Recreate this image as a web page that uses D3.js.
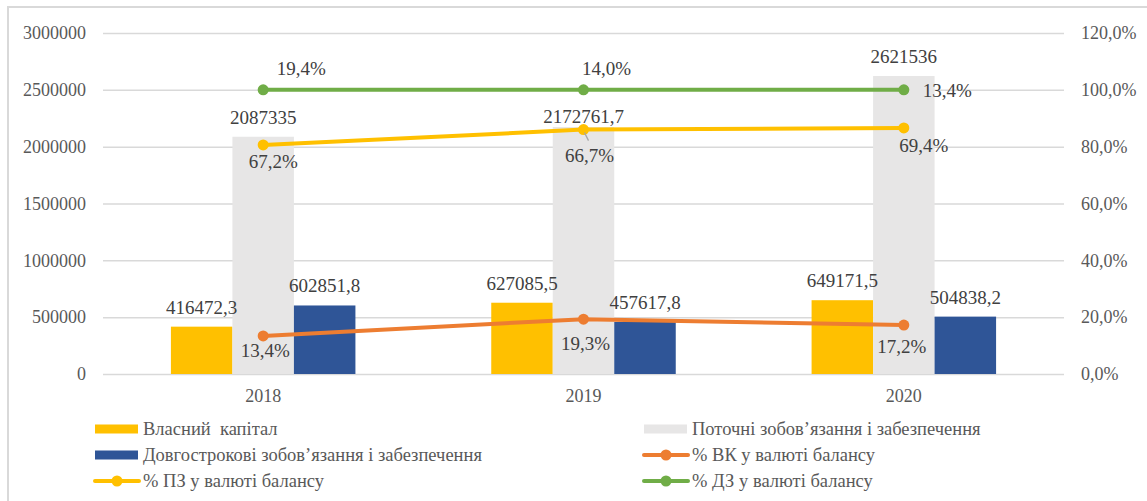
<!DOCTYPE html>
<html>
<head>
<meta charset="utf-8">
<script src="https://cdn.jsdelivr.net/npm/d3@7"></script>
<style>
  body { margin: 0; background: #fff; }
  text { font-family: "Liberation Serif", "Times New Roman", "DejaVu Serif", serif; }
</style>
</head>
<body>
<div id="chart"></div>
<script>
(function() {
	// categories
	var years = ["2018", "2019", "2020"];

	// bars (left axis)
	var equity = [416472.3, 627085.5, 649171.5];          // Власний капітал
	var currentLiab = [2087335, 2172761.7, 2621536];       // Поточні зобов'язання і забезпечення
	var longLiab = [602851.8, 457617.8, 504838.2];         // Довгострокові зобов'язання і забезпечення

	// lines (right axis, stacked), in %
	var pctEquity = [13.4, 19.3, 17.2];   // % ВК
	var pctCurrent = [67.2, 66.7, 69.4];  // % ПЗ
	var pctLong = [19.4, 14.0, 13.4];     // % ДЗ

	var leftTicks = [0, 500000, 1000000, 1500000, 2000000, 2500000, 3000000];
	var rightTicks = [0, 20, 40, 60, 80, 100, 120];

	var width = 1147, height = 501;
	var plot = { left: 103, right: 1064, top: 33, bottom: 374 };

	var colors = { equity: "#FFC000", current: "#E7E6E6", long: "#2F5597",
		lineEq: "#ED7D31", lineCur: "#FFC000", lineLong: "#70AD47" };

	var svg = d3.select("#chart").append("svg")
		.attr("width", width)
		.attr("height", height);

	// outer chart border (only top/left visible in the crop)
	svg.append("rect")
		.attr("x", 8).attr("y", 7)
		.attr("width", 1160).attr("height", 520)
		.attr("fill", "none")
		.attr("stroke", "#d9d9d9")
		.attr("stroke-width", 2);

	// scales
	var xScale = d3.scaleBand().domain(years).range([plot.left, plot.right]);
	var barKeys = ["equity", "current", "long"];
	var barW = 61.5;
	var xInner = d3.scaleBand().domain(barKeys).range([-barW * 1.5, barW * 1.5]);

	var yLeft = d3.scaleLinear().domain([0, 3000000]).range([plot.bottom, plot.top]);
	var yRight = d3.scaleLinear().domain([0, 120]).range([plot.bottom, plot.top]);

	// gridlines
	svg.append("g")
		.attr("transform", "translate(" + plot.left + ",0)")
		.call(d3.axisLeft(yLeft).tickValues(leftTicks).tickSize(-(plot.right - plot.left)).tickFormat(""))
		.call(function(g) {
			g.select(".domain").remove();
			g.selectAll("line").attr("stroke", "#d9d9d9").attr("stroke-width", 1.5);
		});

	// left axis labels
	svg.append("g")
		.attr("transform", "translate(" + plot.left + ",0)")
		.call(d3.axisLeft(yLeft).tickValues(leftTicks).tickSize(0).tickPadding(17).tickFormat(d3.format("d")))
		.call(function(g) {
			g.select(".domain").remove();
			g.selectAll("text").attr("font-size", 18).attr("fill", "#595959");
		});

	// right axis labels
	var pctFmt = function(v) { return d3.format(".1f")(v).replace(".", ",") + "%"; };
	svg.append("g")
		.attr("transform", "translate(" + plot.right + ",0)")
		.call(d3.axisRight(yRight).tickValues(rightTicks).tickSize(0).tickPadding(17).tickFormat(pctFmt))
		.call(function(g) {
			g.select(".domain").remove();
			g.selectAll("text").attr("font-size", 18).attr("fill", "#595959");
		});

	// x axis labels
	svg.append("g")
		.attr("transform", "translate(0,389)")
		.call(d3.axisBottom(xScale).tickSize(0).tickPadding(0))
		.call(function(g) {
			g.select(".domain").remove();
			g.selectAll("text").attr("font-size", 18).attr("fill", "#595959").attr("dy", "0.71em");
		});

	// bars
	var barData = [];
	years.forEach(function(y, i) {
		barData.push({ year: y, key: "equity", value: equity[i] });
		barData.push({ year: y, key: "current", value: currentLiab[i] });
		barData.push({ year: y, key: "long", value: longLiab[i] });
	});

	var cx = function(d) { return xScale(d.year) + xScale.bandwidth() / 2; };

	svg.selectAll("rect.bar")
		.data(barData)
		.enter()
		.append("rect")
		.attr("class", "bar")
		.attr("x", function(d) { return cx(d) + xInner(d.key); })
		.attr("width", xInner.bandwidth())
		.attr("y", function(d) { return yLeft(d.value); })
		.attr("height", function(d) { return plot.bottom - yLeft(d.value); })
		.attr("fill", function(d) { return colors[d.key]; });

	// stacked percentage lines
	var pctRows = years.map(function(y, i) {
		return { year: y, eq: pctEquity[i], cur: pctCurrent[i], long: pctLong[i] };
	});
	var stack = d3.stack().keys(["eq", "cur", "long"])(pctRows);
	var lineColors = { eq: colors.lineEq, cur: colors.lineCur, long: colors.lineLong };

	// label nudges for line values: [dx, dy, anchor]
	var lineLabelNudge = {
		eq: [[2, 21, "middle"], [2, 31, "middle"], [-2, 28, "middle"]],
		cur: [[10, 23, "middle"], [6, 32, "middle"], [20, 24, "middle"]],
		long: [[38, -15, "middle"], [23, -15, "middle"], [19, 7, "start"]]
	};

	var line = d3.line()
		.x(function(d) { return xScale(d.data.year) + xScale.bandwidth() / 2; })
		.y(function(d) { return yRight(d[1]); });

	stack.forEach(function(series) {
		var k = series.key;
		svg.append("path")
			.datum(series)
			.attr("d", line)
			.attr("fill", "none")
			.attr("stroke", lineColors[k])
			.attr("stroke-width", 4)
			.attr("stroke-linecap", "round");

		svg.selectAll("circle.m-" + k)
			.data(series)
			.enter()
			.append("circle")
			.attr("class", "m-" + k)
			.attr("cx", function(d) { return xScale(d.data.year) + xScale.bandwidth() / 2; })
			.attr("cy", function(d) { return yRight(d[1]); })
			.attr("r", 5.5)
			.attr("fill", lineColors[k]);
	});

	// leader line for 66,7%
	var cur2019 = stack[1][1];
	var lx = xScale("2019") + xScale.bandwidth() / 2, ly = yRight(cur2019[1]);
	svg.append("line")
		.attr("x1", lx + 1).attr("y1", ly + 3)
		.attr("x2", lx + 5).attr("y2", ly + 11)
		.attr("stroke", "#a6a6a6").attr("stroke-width", 1.2);

	// line labels
	stack.forEach(function(series) {
		var k = series.key;
		svg.selectAll("text.l-" + k)
			.data(series)
			.enter()
			.append("text")
			.attr("class", "l-" + k)
			.attr("x", function(d, i) { return xScale(d.data.year) + xScale.bandwidth() / 2 + lineLabelNudge[k][i][0]; })
			.attr("y", function(d, i) { return yRight(d[1]) + lineLabelNudge[k][i][1]; })
			.attr("text-anchor", function(d, i) { return lineLabelNudge[k][i][2]; })
			.attr("font-size", 19)
			.attr("fill", "#404040")
			.text(function(d) { return pctFmt(d.data[k]); });
	});

	// bar labels
	var barLabelNudge = { "2019-current": 9 };
	var numFmt = function(v) { return String(v).replace(".", ","); };
	svg.selectAll("text.bl")
		.data(barData)
		.enter()
		.append("text")
		.attr("class", "bl")
		.attr("x", function(d) { return cx(d) + xInner(d.key) + xInner.bandwidth() / 2; })
		.attr("y", function(d) { return yLeft(d.value) - 13 + (barLabelNudge[d.year + "-" + d.key] || 0); })
		.attr("text-anchor", "middle")
		.attr("font-size", 19)
		.attr("fill", "#404040")
		.text(function(d) { return numFmt(d.value); });

	// legend
	var legendItems = [
		{ label: "Власний  капітал", type: "bar", color: colors.equity, col: 0, row: 0 },
		{ label: "Поточні зобов’язання і забезпечення", type: "bar", color: colors.current, col: 1, row: 0 },
		{ label: "Довгострокові зобов’язання і забезпечення", type: "bar", color: colors.long, col: 0, row: 1 },
		{ label: "% ВК у валюті балансу", type: "line", color: colors.lineEq, col: 1, row: 1 },
		{ label: "% ПЗ у валюті балансу", type: "line", color: colors.lineCur, col: 0, row: 2 },
		{ label: "% ДЗ у валюті балансу", type: "line", color: colors.lineLong, col: 1, row: 2 }
	];
	var colX = [95, 644], rowY = [429, 455, 481];

	var lg = svg.selectAll("g.legend")
		.data(legendItems)
		.enter()
		.append("g")
		.attr("class", "legend")
		.attr("transform", function(d) { return "translate(" + colX[d.col] + "," + rowY[d.row] + ")"; });

	lg.filter(function(d) { return d.type === "bar"; })
		.append("rect")
		.attr("x", 0).attr("y", -4.5)
		.attr("width", 43).attr("height", 9)
		.attr("fill", function(d) { return d.color; });

	var ll = lg.filter(function(d) { return d.type === "line"; });
	ll.append("line")
		.attr("x1", 0).attr("x2", 44).attr("y1", 0).attr("y2", 0)
		.attr("stroke", function(d) { return d.color; })
		.attr("stroke-width", 4)
		.attr("stroke-linecap", "round");
	ll.append("circle")
		.attr("cx", 22).attr("cy", 0).attr("r", 5.5)
		.attr("fill", function(d) { return d.color; });

	lg.append("text")
		.attr("x", 48)
		.attr("y", 6)
		.attr("font-size", 18.5)
		.attr("fill", "#595959")
		.style("white-space", "pre")
		.text(function(d) { return d.label; });
})();
</script>
</body>
</html>
